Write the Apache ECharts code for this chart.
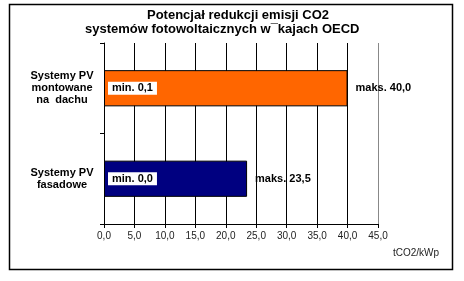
<!DOCTYPE html>
<html>
<head>
<meta charset="utf-8">
<script src="https://cdn.jsdelivr.net/npm/echarts@6/dist/echarts.min.js"></script>
<style>
html,body{margin:0;padding:0;background:#fff;}
#c{width:464px;height:281px;}
</style>
</head>
<body>
<div id="c"></div>
<script>
var titleLine1 = 'Potencjał redukcji emisji CO2';
var titleLine2 = 'systemów fotowoltaicznych w¯kajach OECD';
var categories = ['Systemy PV\nmontowane\nna  dachu', 'Systemy PV\nfasadowe'];
var maxValues = [40.0, 23.5];
var minValues = [0.1, 0.0];
var barColors = ['#FF6600', '#000080'];
var axisMin = 0, axisMax = 45, axisStep = 5;
var unitLabel = 'tCO2/kWp';

function fmt(v){ return v.toFixed(1).replace('.', ','); }

var FONT = "'Liberation Sans', Arial, sans-serif";
var chart = echarts.init(document.getElementById('c'), null, {renderer:'canvas'});

var splitColors = [];
for (var i = 0; i <= (axisMax - axisMin) / axisStep; i++) {
  splitColors.push(i === (axisMax - axisMin) / axisStep ? '#888888' : '#000000');
}

chart.setOption({
  animation: false,
  backgroundColor: '#ffffff',
  title: [
    {text: titleLine1, left: 147, top: 9, padding: 0, textStyle:{fontFamily:FONT, fontSize:13, fontWeight:'bold', color:'#000'}},
    {text: titleLine2, left: 85, top: 23, padding: 0, textStyle:{fontFamily:FONT, fontSize:13, fontWeight:'bold', color:'#000'}}
  ],
  graphic: [
    {type:'rect', shape:{x:9.5, y:4.5, width:443, height:265}, style:{fill:'none', stroke:'#000', lineWidth:1.5}, z:-1},
    {type:'text', left: 393, top: 248, style:{text: unitLabel, font: "10px 'Liberation Sans', Arial, sans-serif", fill:'#222'}}
  ],
  grid: {left: 104, right: 86, top: 43, bottom: 57, containLabel: false},
  xAxis: {
    type: 'value', min: axisMin, max: axisMax, interval: axisStep,
    axisLine: {show: true, lineStyle: {color: '#000', width: 1}},
    axisTick: {show: true, length: 4, lineStyle: {color: '#000'}},
    axisLabel: {formatter: function(v){ return fmt(v); }, fontFamily: FONT, fontSize: 10, color: '#222', margin: 7},
    splitLine: {show: true, lineStyle: {color: splitColors, width: 1}}
  },
  yAxis: {
    type: 'category', data: categories, inverse: true,
    axisLine: {show: true, lineStyle: {color: '#000', width: 1}},
    axisTick: {show: true, length: 4, lineStyle: {color: '#000'}},
    axisLabel: {fontFamily: FONT, fontSize: 11, fontWeight: 'bold', color: '#000', align: 'center', margin: 42, lineHeight: 12}
  },
  series: [
    {
      type: 'bar', barWidth: '40%',
      data: maxValues.map(function(v, i){ return {value: v, itemStyle: {color: barColors[i]}}; }),
      itemStyle: {borderColor: '#000', borderWidth: 1},
      label: {
        show: true, position: 'insideLeft', distance: 4,
        formatter: function(p){ return 'min. ' + fmt(minValues[p.dataIndex]); },
        fontFamily: FONT, fontSize: 11, fontWeight: 'bold', color: '#000',
        backgroundColor: '#fff', padding: [1, 4, 1, 4]
      },
      z: 2
    },
    {
      type: 'bar', barWidth: '40%', barGap: '-100%',
      data: maxValues,
      itemStyle: {color: 'rgba(0,0,0,0)'},
      label: {
        show: true, position: 'right', distance: 8,
        formatter: function(p){ return 'maks. ' + fmt(p.value); },
        fontFamily: FONT, fontSize: 11, fontWeight: 'bold', color: '#000'
      },
      z: 3
    }
  ]
});
</script>
</body>
</html>
